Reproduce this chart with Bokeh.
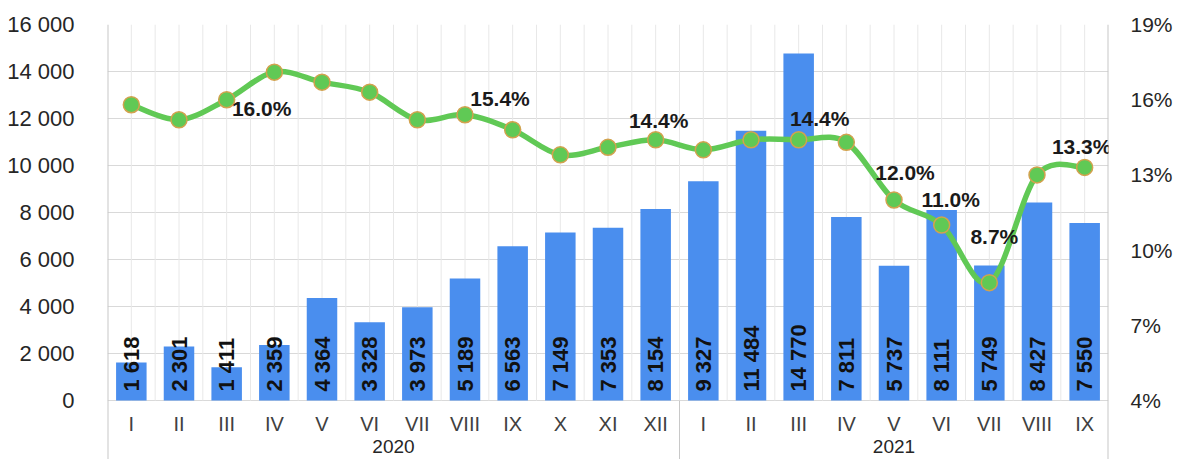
import math
from bokeh.plotting import figure
from bokeh.models import Range1d, LinearAxis, FixedTicker, ColumnDataSource, PrintfTickFormatter
from bokeh.core.properties import value
from bokeh.embed import file_html
from bokeh.resources import INLINE

# ---------------- data ----------------
years = ["2020", "2021"]
months_2020 = ["I", "II", "III", "IV", "V", "VI", "VII", "VIII", "IX", "X", "XI", "XII"]
months_2021 = ["I", "II", "III", "IV", "V", "VI", "VII", "VIII", "IX"]
counts = [1618, 2301, 1411, 2359, 4364, 3328, 3973, 5189, 6563, 7149, 7353, 8154,
          9327, 11484, 14770, 7811, 5737, 8111, 5749, 8427, 7550]
share_pct = [15.8, 15.2, 16.0, 17.1, 16.7, 16.3, 15.2, 15.4, 14.8, 13.8, 14.1, 14.4,
             14.0, 14.4, 14.4, 14.3, 12.0, 11.0, 8.7, 13.0, 13.3]
left_ticks = [0, 2000, 4000, 6000, 8000, 10000, 12000, 14000, 16000]
right_ticks = [4, 7, 10, 13, 16, 19]
labelled_points = [2, 7, 11, 14, 16, 17, 18, 20]

# ---------------- styles / layout ----------------
label_dx = [35, 35, 3, 21, 11, 9, 5, -3]
label_dy = [9, -16, -19, -21, -27, -26, -46, -21]
W, H = 1175, 459
FRAME_L, FRAME_R, FRAME_T = 107, 1117, 24
ZERO_Y = 400
PLOT_PX, BELOW_PX = ZERO_Y - FRAME_T, H - ZERO_Y
FONT = "Liberation Sans"
BAR_COLOR = "#4A8EEE"
LINE_COLOR = "#60C955"
MARKER_EDGE = "#D2A24E"
GRID_H = "#D9D9D9"
GRID_V = "#E8E8E8"
BORDER = "#C8C8C8"

months = months_2020 + months_2021
n = len(counts)
xs = [i + 0.5 for i in range(n)]
y_top = left_ticks[-1]
y_bot = -y_top * BELOW_PX / PLOT_PX
p_lo, p_hi = right_ticks[0], right_ticks[-1]
pct_bot = p_lo + y_bot * (p_hi - p_lo) / y_top

p = figure(width=W, height=H, output_backend="svg", toolbar_location=None,
           x_axis_type=None, x_range=Range1d(0, n), y_range=Range1d(y_bot, y_top),
           min_border_left=FRAME_L, min_border_right=W - FRAME_R,
           min_border_top=FRAME_T, min_border_bottom=0)
p.extra_y_ranges = {"pct": Range1d(pct_bot, p_hi)}
p.outline_line_color = None
p.background_fill_color = "white"
p.border_fill_color = "white"
p.xgrid.visible = False

lt = FixedTicker(ticks=left_ticks)
ax = p.yaxis[0]
ax.ticker = lt
ax.major_label_overrides = {t: f"{t:,}".replace(",", " ") for t in left_ticks}
ax.axis_line_color = None
ax.major_tick_line_color = None
ax.minor_tick_line_color = None
ax.major_label_standoff = 27
ax.major_label_text_font = FONT
ax.major_label_text_font_size = "22px"
ax.major_label_text_color = "#262626"
p.ygrid[0].ticker = lt
p.ygrid[0].grid_line_color = GRID_H

rax = LinearAxis(y_range_name="pct", ticker=FixedTicker(ticks=right_ticks),
                 formatter=PrintfTickFormatter(format="%d%%"))
rax.axis_line_color = None
rax.major_tick_line_color = None
rax.minor_tick_line_color = None
rax.major_label_standoff = 16
rax.major_label_text_font = FONT
rax.major_label_text_font_size = "21px"
rax.major_label_text_color = "#262626"
p.add_layout(rax, "right")

# vertical light grid at every half category (plot area only)
vx = [k * 0.5 for k in range(1, 2 * n)]
p.segment(x0=vx, y0=[0] * len(vx), x1=vx, y1=[y_top] * len(vx), line_color=GRID_V, line_width=1)
# frame borders and year separator
bx = [0, n]
p.segment(x0=bx, y0=[y_bot] * 2, x1=bx, y1=[y_top] * 2, line_color=BORDER, line_width=2)
sep = len(months_2020)
p.segment(x0=[sep], y0=[y_bot], x1=[sep], y1=[0], line_color=BORDER, line_width=1)

# bars
p.vbar(x=xs, top=counts, width=0.64, bottom=0, fill_color=BAR_COLOR, line_color=None)

# bar labels (rotated)
bsrc = ColumnDataSource(dict(x=xs, y=[0] * n, t=[f"{c:,}".replace(",", " ") for c in counts]))
p.text(x="x", y="y", text="t", source=bsrc, angle=math.pi / 2, text_align="left",
       text_baseline="middle", y_offset=-9, text_font=value(FONT), text_font_style="bold",
       text_font_size="22px", text_color="#111111")

# smoothed line via bezier segments
x0, y0, x1, y1, cx0, cy0, cx1, cy1 = ([] for _ in range(8))
for i in range(n - 1):
    a = max(i - 1, 0)
    d = min(i + 2, n - 1)
    x0.append(xs[i]); y0.append(share_pct[i])
    x1.append(xs[i + 1]); y1.append(share_pct[i + 1])
    cx0.append(xs[i] + (xs[i + 1] - xs[a]) / 6); cy0.append(share_pct[i] + (share_pct[i + 1] - share_pct[a]) / 6)
    cx1.append(xs[i + 1] - (xs[d] - xs[i]) / 6); cy1.append(share_pct[i + 1] - (share_pct[d] - share_pct[i]) / 6)
p.bezier(x0=x0, y0=y0, x1=x1, y1=y1, cx0=cx0, cy0=cy0, cx1=cx1, cy1=cy1,
         line_color=LINE_COLOR, line_width=5.5, y_range_name="pct")
p.scatter(x=xs, y=share_pct, size=16, fill_color=LINE_COLOR, line_color=MARKER_EDGE,
          line_width=1.5, y_range_name="pct")

# percentage labels
lsrc = ColumnDataSource(dict(
    x=[xs[i] for i in labelled_points], y=[share_pct[i] for i in labelled_points],
    t=[f"{share_pct[i]:.1f}%" for i in labelled_points], dx=label_dx, dy=label_dy))
p.text(x="x", y="y", text="t", source=lsrc, x_offset="dx", y_offset="dy", y_range_name="pct",
       text_align="center", text_baseline="middle", text_font=value(FONT),
       text_font_style="bold", text_font_size="21px", text_color="#1a1a1a")

# month labels and year labels below the zero line
msrc = ColumnDataSource(dict(x=xs, y=[0] * n, t=months))
p.text(x="x", y="y", text="t", source=msrc, y_offset=23, text_align="center",
       text_baseline="middle", text_font=value(FONT), text_font_size="20px", text_color="#404040")
group_sizes = [len(months_2020), len(months_2021)]
gc, start = [], 0
for g in group_sizes:
    gc.append(start + g / 2)
    start += g
ysrc = ColumnDataSource(dict(x=gc, y=[0] * len(gc), t=years))
p.text(x="x", y="y", text="t", source=ysrc, y_offset=46, text_align="center",
       text_baseline="middle", text_font=value(FONT), text_font_size="19px", text_color="#262626")

open("out.html", "w").write(file_html(p, INLINE))
